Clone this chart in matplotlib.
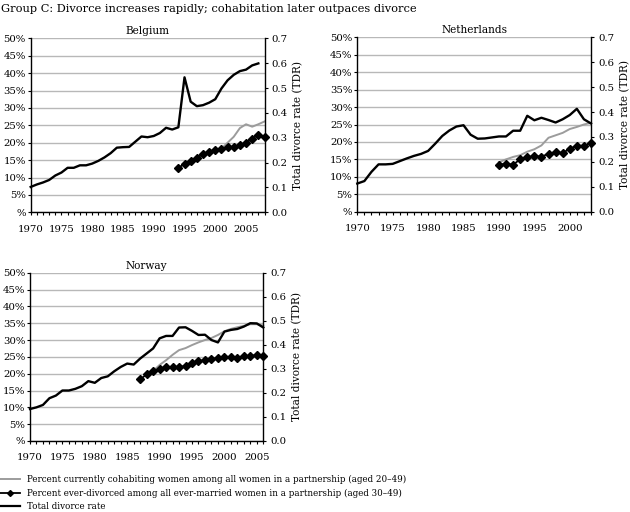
import matplotlib
matplotlib.use('Agg')
import matplotlib.pyplot as plt
from matplotlib.lines import Line2D
from matplotlib.ticker import MultipleLocator, FixedLocator

# ---------------- DATA ----------------
# Belgium
be_tdr_years = list(range(1970, 2008))
be_tdr = [0.102, 0.112, 0.120, 0.130, 0.148, 0.160, 0.179, 0.179, 0.189, 0.189,
          0.196, 0.207, 0.221, 0.238, 0.260, 0.262, 0.263, 0.284, 0.305, 0.302,
          0.307, 0.319, 0.340, 0.333, 0.342, 0.543, 0.445, 0.427, 0.431, 0.441,
          0.455, 0.498, 0.531, 0.553, 0.568, 0.574, 0.591, 0.599]
be_div_years = list(range(1994, 2009))
be_div = [12.8, 13.9, 14.8, 15.7, 16.7, 17.4, 18.0, 18.2, 18.8, 18.8, 19.2, 20.0,
          21.2, 22.3, 21.6]
be_coh_years = list(range(2001, 2009))
be_coh = [18.3, 20.0, 21.7, 24.2, 25.3, 24.6, 25.3, 26.1]

# Netherlands
nl_tdr_years = list(range(1970, 2004))
nl_tdr = [0.113, 0.123, 0.160, 0.190, 0.190, 0.192, 0.203, 0.214, 0.224, 0.232,
          0.244, 0.273, 0.304, 0.326, 0.342, 0.347, 0.309, 0.293, 0.294, 0.298,
          0.302, 0.302, 0.325, 0.325, 0.385, 0.367, 0.377, 0.368, 0.358, 0.371,
          0.388, 0.413, 0.371, 0.354]
nl_div_years = list(range(1990, 2004))
nl_div = [13.5, 13.7, 13.5, 15.0, 15.6, 15.9, 15.8, 16.6, 17.1, 16.8, 18.1, 18.9,
          18.9, 19.7]
nl_coh_years = list(range(1990, 2004))
nl_coh = [14.2, 15.0, 15.7, 16.2, 17.2, 17.9, 19.0, 21.2, 21.9, 22.6, 23.7, 24.3,
          25.0, 25.5]

# Norway
no_tdr_years = list(range(1970, 2007))
no_tdr = [0.133, 0.140, 0.150, 0.178, 0.189, 0.210, 0.210, 0.217, 0.228, 0.249,
          0.242, 0.262, 0.269, 0.290, 0.308, 0.322, 0.318, 0.343, 0.364, 0.385,
          0.427, 0.437, 0.437, 0.472, 0.473, 0.458, 0.441, 0.442, 0.420, 0.410,
          0.455, 0.462, 0.466, 0.476, 0.490, 0.489, 0.472]
no_div_years = list(range(1987, 2007))
no_div = [18.3, 19.8, 20.7, 21.3, 22.0, 22.0, 22.0, 22.2, 23.3, 23.7, 24.0, 24.3,
          24.7, 25.0, 25.0, 24.8, 25.2, 25.3, 25.5, 25.2]
no_coh_years = list(range(1989, 2007))
no_coh = [20.8, 22.6, 24.0, 25.6, 27.0, 27.6, 28.5, 29.3, 30.0, 30.6, 31.5, 32.6,
          33.3, 33.8, 34.2, 34.7, 34.7, 34.3]

pct_ticks = [0, 5, 10, 15, 20, 25, 30, 35, 40, 45, 50]
pct_labels = ['%', '5%', '10%', '15%', '20%', '25%', '30%', '35%', '40%', '45%', '50%']
tdr_ticks = [0.0, 0.1, 0.2, 0.3, 0.4, 0.5, 0.6, 0.7]
tdr_labels = ['0.0', '0.1', '0.2', '0.3', '0.4', '0.5', '0.6', '0.7']

title_text = 'Group C: Divorce increases rapidly; cohabitation later outpaces divorce'
legend_labels = ['Percent currently cohabiting women among all women in a partnership (aged 20\u201349)',
                 'Percent ever-divorced among all ever-married women in a partnership (aged 30\u201349)',
                 'Total divorce rate']

# ---------------- STYLE ----------------
FONT = 'DejaVu Serif'
plt.rcParams['font.family'] = [FONT]
FS = 7.3
LEG_FS = 6.3
GRAY = '#9c9c9c'
GRID = '#b8b8b8'
MS = 4.3

W, H = 630, 512
fig = plt.figure(figsize=(W / 100, H / 100), dpi=100)


def px_axes(l, t, r, b):
    return [l / W, 1 - b / H, (r - l) / W, (b - t) / H]


def panel(rect, name, ty, tv, dy, dv, cy, cv, xmax):
    ax = fig.add_axes(px_axes(*rect))
    ax.set_xlim(1970, xmax)
    ax.set_ylim(0, 50)
    ax.set_yticks(pct_ticks)
    ax.set_yticklabels(pct_labels)
    ax.xaxis.set_major_locator(FixedLocator(list(range(1970, int(xmax) + 1, 5))))
    ax.xaxis.set_minor_locator(MultipleLocator(1))
    ax.grid(axis='y', color=GRID, lw=1.0, zorder=0)
    ax.set_axisbelow(True)
    for s in ['top', 'right']:
        ax.spines[s].set_visible(False)
    for s in ['left', 'bottom']:
        ax.spines[s].set_color('black')
        ax.spines[s].set_linewidth(1.0)
    ax.tick_params(axis='x', which='both', direction='out', length=2.5, width=0.8,
                   labelsize=FS, pad=6.5)
    ax.tick_params(axis='y', direction='out', length=2.5, width=0.8, labelsize=FS, pad=1)
    ax.plot(cy, cv, color=GRAY, lw=1.4, zorder=3, clip_on=False)
    ax.plot(dy, dv, color='black', lw=1.3, marker='D', markersize=MS, zorder=4,
            clip_on=False)
    ax.set_title(name, fontsize=FS + 0.3, pad=3)

    ax2 = ax.twinx()
    ax2.set_ylim(0, 0.7)
    ax2.set_yticks(tdr_ticks)
    ax2.set_yticklabels(tdr_labels)
    for s in ['top', 'left', 'bottom']:
        ax2.spines[s].set_visible(False)
    ax2.spines['right'].set_color('black')
    ax2.spines['right'].set_linewidth(1.0)
    ax2.tick_params(axis='y', direction='out', length=2.5, width=0.8, labelsize=FS, pad=2.5)
    ax2.plot(ty, tv, color='black', lw=1.7, zorder=5, clip_on=False)
    ax2.set_ylabel('Total divorce rate (TDR)', fontsize=FS + 0.3, labelpad=4)
    return ax, ax2


panel((30.7, 38.3, 264.5, 212.3), 'Belgium', be_tdr_years, be_tdr,
      be_div_years, be_div, be_coh_years, be_coh, 2008)
panel((357.3, 37.3, 591, 211.7), 'Netherlands', nl_tdr_years, nl_tdr,
      nl_div_years, nl_div, nl_coh_years, nl_coh, 2003)
panel((30, 272.7, 263.3, 441), 'Norway', no_tdr_years, no_tdr,
      no_div_years, no_div, no_coh_years, no_coh, 2006)

fig.text(1 / W, 1 - 8.5 / H, title_text, fontsize=8.2, ha='left', va='center')

handles = [Line2D([], [], color=GRAY, lw=1.4),
           Line2D([], [], color='black', lw=1.3, marker='D', markersize=3.0),
           Line2D([], [], color='black', lw=1.6)]
fig.legend(handles, legend_labels, loc='upper left', bbox_to_anchor=(0.0, 1 - 474.5 / H),
           frameon=False, fontsize=LEG_FS, handlelength=2.3, handletextpad=0.75,
           labelspacing=0.55, borderpad=0, borderaxespad=0)

fig.savefig('out.png', dpi=100)
